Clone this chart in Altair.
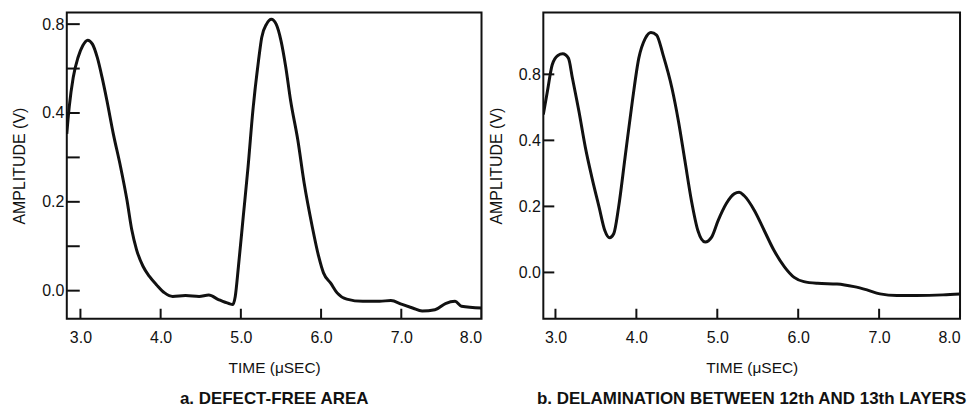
import altair as alt
import pandas as pd

# ---- data (axis position units; left-axis labels are 0.0, 0.2, 0.4, 0.8 on equal spacing) ----
a_time = [2.83, 2.86, 2.91, 2.97, 3.03, 3.09, 3.15, 3.21, 3.27, 3.33, 3.41, 3.50, 3.58, 3.64, 3.70,
          3.78, 3.86, 3.95, 4.05, 4.15, 4.31, 4.48, 4.60, 4.72, 4.85, 4.90, 4.93, 4.97, 5.03, 5.09,
          5.15, 5.22, 5.26, 5.32, 5.38, 5.44, 5.50, 5.56, 5.62, 5.71, 5.79, 5.89, 5.97, 6.03, 6.12,
          6.20, 6.32, 6.52, 6.73, 6.87, 7.01, 7.14, 7.26, 7.42, 7.55, 7.67, 7.75, 8.00]
a_amp = [0.353, 0.413, 0.480, 0.525, 0.552, 0.564, 0.555, 0.525, 0.480, 0.428, 0.353, 0.279, 0.204, 0.137, 0.092,
         0.055, 0.032, 0.013, -0.005, -0.013, -0.011, -0.013, -0.010, -0.020, -0.029, -0.031, -0.013, 0.055, 0.167, 0.279,
         0.406, 0.518, 0.570, 0.600, 0.611, 0.600, 0.563, 0.503, 0.428, 0.339, 0.241, 0.144, 0.077, 0.040, 0.017,
         -0.005, -0.019, -0.024, -0.024, -0.022, -0.031, -0.039, -0.046, -0.043, -0.029, -0.024, -0.035, -0.039]

b_time = [2.85, 2.90, 2.96, 3.03, 3.09, 3.16, 3.21, 3.29, 3.37, 3.45, 3.54, 3.61, 3.67, 3.72, 3.78,
          3.86, 3.95, 4.03, 4.11, 4.18, 4.25, 4.33, 4.44, 4.52, 4.60, 4.68, 4.76, 4.85, 4.93, 5.01,
          5.11, 5.21, 5.27, 5.33, 5.46, 5.58, 5.70, 5.83, 5.95, 6.07, 6.24, 6.48, 6.69, 6.85, 7.01,
          7.22, 7.46, 7.79, 8.00]
b_amp = [0.478, 0.548, 0.629, 0.657, 0.662, 0.649, 0.588, 0.488, 0.378, 0.288, 0.197, 0.127, 0.105, 0.117, 0.197,
         0.348, 0.518, 0.649, 0.709, 0.727, 0.719, 0.659, 0.558, 0.458, 0.338, 0.218, 0.127, 0.092, 0.107, 0.157,
         0.208, 0.238, 0.243, 0.233, 0.187, 0.127, 0.067, 0.017, -0.015, -0.028, -0.033, -0.035, -0.043, -0.053, -0.065,
         -0.070, -0.070, -0.068, -0.065]

x_ticks = [3.0, 4.0, 5.0, 6.0, 7.0, 8.0]
y_label_pos = [0.0, 0.2, 0.4, 0.6]
y_label_text = ["0.0", "0.2", "0.4", "0.8"]
a_y_ticks = [0.0, 0.1, 0.2, 0.3, 0.4, 0.5, 0.6]
b_y_ticks = [0.0, 0.2, 0.4, 0.6]

FONT = "Liberation Sans"
INK = "#111111"

label_expr = "[" + ",".join("'%s'" % s for s in y_label_text) + "][indexof([" + \
    ",".join(str(v) for v in y_label_pos) + "], datum.value)]"


def panel(t, a, xdom, ydom, yticks, subtitle, width, height, ytick_len):
    df = pd.DataFrame({"t": t, "a": a})
    xs = alt.Scale(domain=xdom, nice=False, zero=False)
    ys = alt.Scale(domain=ydom, nice=False, zero=False)
    line = alt.Chart(df).mark_line(color=INK, strokeWidth=3, interpolate="monotone", clip=True).encode(
        x=alt.X("t:Q", scale=xs,
                axis=alt.Axis(values=x_ticks, format=".1f", title="TIME (\u03bcSEC)", ticks=False, tickSize=0,
                              domain=False, grid=False, labelPadding=11, titlePadding=15,
                              labelFontSize=16, titleFontSize=15.5, titleFontWeight="normal",
                              labelColor=INK, titleColor=INK, labelFont=FONT, titleFont=FONT)),
        y=alt.Y("a:Q", scale=ys,
                axis=alt.Axis(values=y_label_pos, labelExpr=label_expr, title="AMPLITUDE (V)", ticks=False,
                              tickSize=0, domain=False, grid=False, labelPadding=3, titlePadding=14,
                              labelFontSize=16, titleFontSize=16, titleFontWeight="normal",
                              labelColor=INK, titleColor=INK, labelFont=FONT, titleFont=FONT)),
    )
    yt = alt.Chart(pd.DataFrame({"a": yticks})).mark_rule(color=INK, strokeWidth=2).encode(
        y=alt.Y("a:Q", scale=ys), x=alt.value(0), x2=alt.value(ytick_len))
    xt = alt.Chart(pd.DataFrame({"t": x_ticks})).mark_rule(color=INK, strokeWidth=2, clip=True).encode(
        x=alt.X("t:Q", scale=xs), y=alt.value(height), y2=alt.value(height - 10))
    return alt.layer(line, yt, xt).properties(
        width=width, height=height,
        title=alt.TitleParams(subtitle, orient="bottom", anchor="middle", fontSize=17, fontWeight="bold",
                              font=FONT, color=INK, offset=15))


left = panel(a_time, a_amp, [2.83, 8.0], [-0.063, 0.626], a_y_ticks,
             "a.  DEFECT-FREE AREA", 416, 307, 13)
right = panel(b_time, b_amp, [2.85, 8.0], [-0.14, 0.787], b_y_ticks,
              "b.  DELAMINATION BETWEEN 12th AND 13th LAYERS", 418, 307, 11)

chart = alt.hconcat(left, right, spacing=62, bounds="flush").properties(
    padding={"left": 10, "top": 11, "right": 0, "bottom": 0},
    background="white",
).configure(font=FONT).configure_view(stroke=INK, strokeWidth=2)

chart.save("out.html", embed_options={"renderer": "svg", "actions": False})
